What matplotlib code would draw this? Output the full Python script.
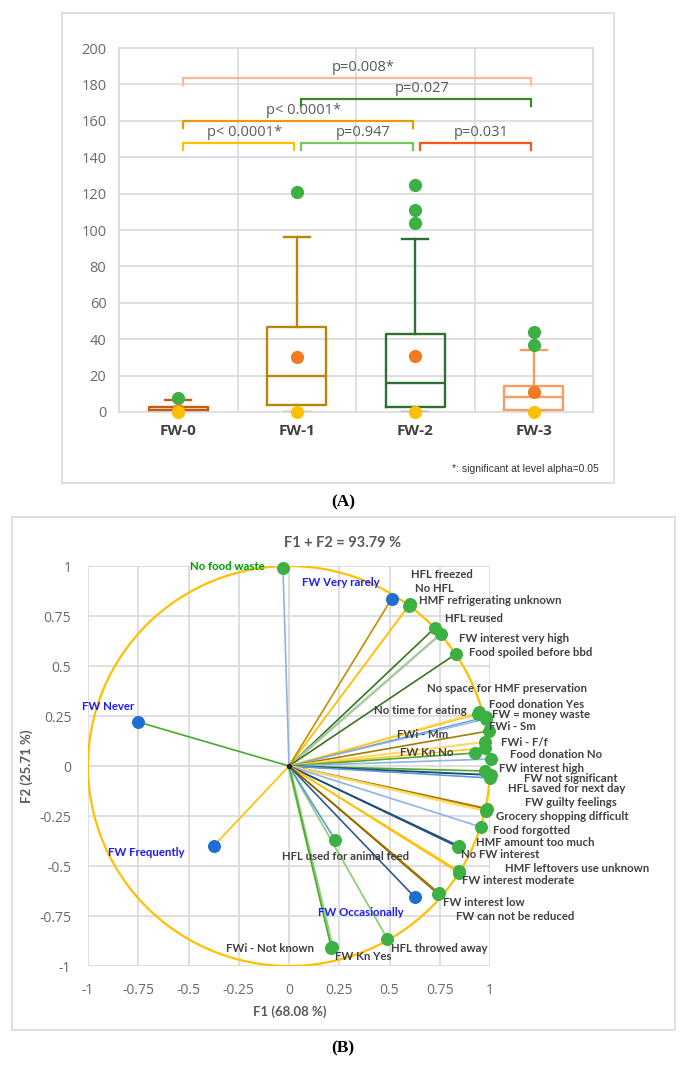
import matplotlib
matplotlib.use('Agg')
import matplotlib.pyplot as plt
from matplotlib.patches import Rectangle, Circle
import numpy as np

# ---------------- Panel A data ----------------
groups = ['FW-0', 'FW-1', 'FW-2', 'FW-3']
q1 = [0.3, 3.7, 2.6, 0.9]
median = [1.2, 20.0, 15.8, 8.1]
q3 = [2.7, 46.6, 42.9, 14.1]
whisker_low = [0.0, 0.0, 0.0, 0.0]
whisker_high = [6.4, 96.0, 95.2, 34.3]
means = [1.3, 30.0, 31.0, 11.2]
minimums = [0.0, 0.0, 0.0, 0.0]
outliers = [[7.7], [121.0], [124.6, 111.0, 104.0], [43.9, 36.7]]
comp_a = [0, 1, 2, 0, 1, 0]
comp_b = [1, 2, 3, 2, 3, 3]
p_labels = ['p< 0.0001*', 'p=0.947', 'p=0.031', 'p< 0.0001*', 'p=0.027', 'p=0.008*']
note_text = '*: significant at level alpha=0.05'

# ---------------- Panel B data ----------------
var_names = ['No food waste', 'HFL freezed', 'No HFL', 'HMF refrigerating unknown',
             'HFL reused', 'FW interest very high', 'Food spoiled before bbd',
             'No space for HMF preservation', 'No time for eating', 'Food donation Yes',
             'FW = money waste', 'FWi - Sm', 'FWi - Mm', 'FWi - F/f', 'FW Kn No',
             'Food donation No', 'FW interest high', 'FW not significant',
             'HFL saved for next day', 'FW guilty feelings', 'Grocery shopping difficult',
             'Food forgotted', 'HMF amount too much', 'No FW interest',
             'HMF leftovers use unknown', 'FW interest moderate', 'FW interest low',
             'FW can not be reduced', 'HFL throwed away', 'HFL used for animal feed',
             'FW Kn Yes', 'FWi - Not known']
var_x = [-0.03, 0.60, 0.595, 0.60, 0.725, 0.755, 0.83, 0.945, 0.94, 0.98, 0.98, 0.993,
         0.975, 0.975, 0.925, 1.005, 0.975, 1.005, 1.0, 0.985, 0.98, 0.955, 0.845, 0.84,
         0.845, 0.845, 0.745, 0.74, 0.49, 0.23, 0.215, 0.21]
var_y = [0.99, 0.81, 0.80, 0.805, 0.69, 0.66, 0.56, 0.27, 0.26, 0.245, 0.235, 0.175,
         0.12, 0.09, 0.065, 0.035, -0.025, -0.045, -0.06, -0.215, -0.225, -0.305, -0.40,
         -0.405, -0.525, -0.535, -0.635, -0.64, -0.865, -0.37, -0.905, -0.91]
sup_names = ['FW Never', 'FW Very rarely', 'FW Occasionally', 'FW Frequently']
sup_x = [-0.75, 0.51, 0.625, -0.375]
sup_y = [0.22, 0.835, -0.655, -0.40]
title_b = 'F1 + F2 = 93.79 %'
xlabel_b = 'F1 (68.08 %)'
ylabel_b = 'F2 (25.71 %)'
ticks_b = [-1, -0.75, -0.5, -0.25, 0, 0.25, 0.5, 0.75, 1]
ticklabels_b = ['-1', '-0.75', '-0.5', '-0.25', '0', '0.25', '0.5', '0.75', '1']

# ---------------- styles ----------------
W, H = 686, 1074
def fx(p): return p / W
def fy(p): return 1 - p / H

box_colors = ['#c55a11', '#b8860b', '#2e7031', '#f79c62']
bracket_colors = ['#ffc000', '#77c85a', '#f05a1a', '#e0a000', '#3a8a2a', '#f9b99c']
bracket_levels = [148, 148, 148, 160, 172, 183.5]
GREEN_PT = '#3cb043'
ORANGE_PT = '#f47920'
YELLOW_PT = '#ffc000'
BLUE_PT = '#1f6fd0'

LBLUE = '#8fb4e3'; MBLUE = '#5b9bd5'; DBLUE = '#1f4e79'
GREEN = '#4ea72e'; DGREEN = '#38761d'; LGREEN = '#8fce7a'; GGREEN = '#a8c8a0'
GOLD = '#ffc000'; LGOLD = '#ffd966'; BROWN = '#a67c00'; DBROWN = '#8a5a00'

line_style = {
    'No food waste': (LBLUE, 1.2), 'HFL freezed': (GOLD, 1.0), 'No HFL': (LGOLD, 1.0),
    'HMF refrigerating unknown': (GOLD, 1.0), 'HFL reused': (DGREEN, 1.2),
    'FW interest very high': (GGREEN, 1.8), 'Food spoiled before bbd': (DGREEN, 1.2),
    'No space for HMF preservation': (LGOLD, 1.2), 'No time for eating': (GOLD, 0.9),
    'Food donation Yes': (MBLUE, 1.0), 'FW = money waste': (LBLUE, 1.0),
    'FWi - Sm': (BROWN, 1.2), 'FWi - Mm': (LGOLD, 1.5), 'FWi - F/f': (GOLD, 1.0),
    'FW Kn No': (GREEN, 1.2), 'Food donation No': (LBLUE, 1.2), 'FW interest high': (GREEN, 1.2),
    'FW not significant': (DBLUE, 1.4), 'HFL saved for next day': (MBLUE, 1.2),
    'FW guilty feelings': (BROWN, 1.8), 'Grocery shopping difficult': (LGOLD, 1.8),
    'Food forgotted': (LBLUE, 1.2), 'HMF amount too much': (DBLUE, 1.2),
    'No FW interest': (DBLUE, 1.0), 'HMF leftovers use unknown': (GOLD, 1.2),
    'FW interest moderate': (GOLD, 1.0), 'FW interest low': (BROWN, 1.3),
    'FW can not be reduced': (DBROWN, 0.8), 'HFL throwed away': (LGREEN, 1.3),
    'HFL used for animal feed': (MBLUE, 1.2), 'FW Kn Yes': (LGREEN, 2.4),
    'FWi - Not known': (GREEN, 1.0),
}
sup_line_colors = {'FW Never': GREEN, 'FW Very rarely': '#bf9000',
                   'FW Occasionally': '#2e5c8a', 'FW Frequently': GOLD}

# label positions (x, y, ha)
label_pos = {
    'No food waste': (-0.12, 1.0, 'right'), 'HFL freezed': (0.605, 0.955, 'left'),
    'No HFL': (0.625, 0.89, 'left'), 'HMF refrigerating unknown': (0.645, 0.83, 'left'),
    'HFL reused': (0.775, 0.735, 'left'), 'FW interest very high': (0.845, 0.64, 'left'),
    'Food spoiled before bbd': (0.895, 0.565, 'left'),
    'No space for HMF preservation': (0.685, 0.385, 'left'),
    'No time for eating': (0.885, 0.275, 'right'), 'Food donation Yes': (0.995, 0.31, 'left'),
    'FW = money waste': (1.01, 0.255, 'left'), 'FWi - Sm': (0.995, 0.195, 'left'),
    'FWi - Mm': (0.535, 0.16, 'left'), 'FWi - F/f': (1.055, 0.12, 'left'),
    'FW Kn No': (0.55, 0.07, 'left'), 'Food donation No': (1.10, 0.055, 'left'),
    'FW interest high': (1.045, -0.015, 'left'), 'FW not significant': (1.17, -0.065, 'left'),
    'HFL saved for next day': (1.09, -0.115, 'left'), 'FW guilty feelings': (1.175, -0.18, 'left'),
    'Grocery shopping difficult': (1.03, -0.255, 'left'), 'Food forgotted': (1.015, -0.325, 'left'),
    'HMF amount too much': (0.93, -0.385, 'left'), 'No FW interest': (0.855, -0.44, 'left'),
    'HMF leftovers use unknown': (1.075, -0.51, 'left'),
    'FW interest moderate': (0.86, -0.57, 'left'), 'FW interest low': (0.765, -0.68, 'left'),
    'FW can not be reduced': (0.83, -0.75, 'left'), 'HFL throwed away': (0.505, -0.915, 'left'),
    'HFL used for animal feed': (-0.035, -0.455, 'left'), 'FW Kn Yes': (0.23, -0.955, 'left'),
    'FWi - Not known': (0.125, -0.915, 'right'),
}
sup_label_pos = {'FW Never': (-0.9, 0.295), 'FW Very rarely': (0.26, 0.92),
                 'FW Occasionally': (0.355, -0.73), 'FW Frequently': (-0.71, -0.435)}

TICK_C = '#6a6a6a'
TXT_C = '#404040'
LAB_FONT = ['Lato', 'DejaVu Sans']
GRID_C = '#d9d9d9'

fig = plt.figure(figsize=(W / 100, H / 100), dpi=100)
fig.patch.set_facecolor('white')

# ================= Panel A =================
fig.add_artist(Rectangle((fx(62), fy(483)), (614 - 62) / W, (483 - 13) / H,
                         transform=fig.transFigure, fill=False, ec=GRID_C, lw=1.2))
axA = fig.add_axes([fx(119), fy(412), (593 - 119) / W, (412 - 48) / H])

stats = []
for i in range(len(groups)):
    stats.append(dict(med=median[i], q1=q1[i], q3=q3[i], whislo=whisker_low[i],
                      whishi=whisker_high[i], mean=means[i], fliers=[]))
bp = axA.bxp(stats, positions=range(len(groups)), widths=0.5, capwidths=0.22,
             showfliers=False, showmeans=False, patch_artist=False, manage_ticks=False)
for i, c in enumerate(box_colors):
    lw = 1.7
    bp['boxes'][i].set_color(c); bp['boxes'][i].set_linewidth(lw)
    bp['medians'][i].set_color(c); bp['medians'][i].set_linewidth(lw)
    for k in (2 * i, 2 * i + 1):
        bp['whiskers'][k].set_color(c); bp['whiskers'][k].set_linewidth(lw)
        bp['caps'][k].set_color(c); bp['caps'][k].set_linewidth(lw)

axA.set_xlim(-0.5, 3.5)
axA.set_ylim(0, 200)
axA.set_yticks(np.arange(0, 201, 20))
axA.set_xticks(range(len(groups)))
axA.set_xticklabels(groups, fontsize=11, fontweight='bold', color=TXT_C,
                    family=['Open Sans', 'DejaVu Sans'])
axA.tick_params(axis='x', length=0, pad=9)
axA.tick_params(axis='y', length=0, pad=9, labelsize=10.5, labelcolor=TICK_C)
for lab in axA.get_yticklabels():
    lab.set_family(['Open Sans', 'DejaVu Sans'])
for v in np.arange(20, 200, 20):
    axA.axhline(v, color=GRID_C, lw=1.2, zorder=0)
for v in [0.5, 1.5, 2.5]:
    axA.axvline(v, color=GRID_C, lw=1.2, zorder=0)
for s in axA.spines.values():
    s.set_color(GRID_C)
    s.set_linewidth(1.2)

for i in range(len(groups)):
    axA.scatter([i] * len(outliers[i]), outliers[i], s=72, color=GREEN_PT, zorder=5, clip_on=False)
axA.scatter(range(len(groups)), means, s=72, color=ORANGE_PT, zorder=6, clip_on=False)
axA.scatter(range(len(groups)), minimums, s=72, color=YELLOW_PT, zorder=7, clip_on=False)

for a, b, lab, c, lev in zip(comp_a, comp_b, p_labels, bracket_colors, bracket_levels):
    x0, x1 = a + 0.04, b - 0.02
    axA.plot([x0, x0, x1, x1], [lev - 4, lev, lev, lev - 4], color=c, lw=1.6,
             solid_joinstyle='miter', zorder=4, clip_on=False)
    axA.text((a + b) / 2 + 0.06, lev + 5.6, lab, ha='center', va='center', fontsize=10.5,
             color='#595959', family=['Open Sans', 'DejaVu Sans'], zorder=4)

fig.text(fx(599), fy(469), note_text, ha='right', va='center', fontsize=7.5,
         color='#333333', family=['Liberation Sans', 'DejaVu Sans'])
fig.text(fx(343), fy(502), '(A)', ha='center', va='center', fontsize=12.5,
         fontweight='bold', family=['Liberation Serif', 'DejaVu Serif'])

# ================= Panel B =================
fig.add_artist(Rectangle((fx(12), fy(1030)), (675 - 12) / W, (1030 - 517) / H,
                         transform=fig.transFigure, fill=False, ec=GRID_C, lw=1.2))
axB = fig.add_axes([fx(88), fy(966), (490 - 88) / W, (966 - 566) / H])
axB.set_xlim(-1, 1)
axB.set_ylim(-1, 1)
axB.set_xticks(ticks_b)
axB.set_xticklabels(ticklabels_b)
axB.set_yticks(ticks_b)
axB.set_yticklabels(ticklabels_b)
axB.tick_params(length=0, labelsize=10, labelcolor=TICK_C)
axB.tick_params(axis='x', pad=12)
axB.tick_params(axis='y', pad=12)
for lab in axB.get_xticklabels() + axB.get_yticklabels():
    lab.set_family(['Open Sans', 'DejaVu Sans'])
for s in axB.spines.values():
    s.set_visible(False)
for t in ticks_b:
    axB.axvline(t, color=GRID_C, lw=1.2, zorder=0)
    axB.axhline(t, color=GRID_C, lw=1.2, zorder=0)

axB.add_patch(Circle((0, 0), 1, fill=False, ec=GOLD, lw=1.6, zorder=1.5))

for n, x, y in zip(var_names, var_x, var_y):
    c, lw = line_style[n]
    axB.plot([0, x], [0, y], color=c, lw=lw, zorder=2, solid_capstyle='butt')
for n, x, y in zip(sup_names, sup_x, sup_y):
    axB.plot([0, x], [0, y], color=sup_line_colors[n], lw=1.2, zorder=2)
axB.plot([0], [0], marker='o', ms=3, color='#222222', zorder=3)

axB.scatter(var_x, var_y, s=70, color=GREEN_PT, zorder=4, clip_on=False)
axB.scatter(sup_x, sup_y, s=70, color=BLUE_PT, zorder=4, clip_on=False)

for n in var_names:
    lx, ly, ha = label_pos[n]
    col = '#00a000' if n == 'No food waste' else TXT_C
    axB.text(lx, ly, n, ha=ha, va='center', fontsize=8.2, fontweight='bold', color=col,
             family=LAB_FONT, zorder=5, clip_on=False)
for n in sup_names:
    lx, ly = sup_label_pos[n]
    axB.text(lx, ly, n, ha='center', va='center', fontsize=8.2, fontweight='bold',
             color='#1a1aff', family=LAB_FONT, zorder=5, clip_on=False)

fig.text(fx(343), fy(543), title_b, ha='center', va='center', fontsize=10.5,
         fontweight='bold', color='#595959', family=LAB_FONT)
fig.text(fx(290), fy(1012), xlabel_b, ha='center', va='center', fontsize=9.5,
         fontweight='bold', color='#595959', family=LAB_FONT)
fig.text(fx(27), fy(766), ylabel_b, ha='center', va='center', rotation=90, fontsize=9.5,
         fontweight='bold', color='#595959', family=LAB_FONT)
fig.text(fx(343), fy(1048), '(B)', ha='center', va='center', fontsize=12.5,
         fontweight='bold', family=['Liberation Serif', 'DejaVu Serif'])

fig.savefig('out.png', dpi=100, facecolor='white')
